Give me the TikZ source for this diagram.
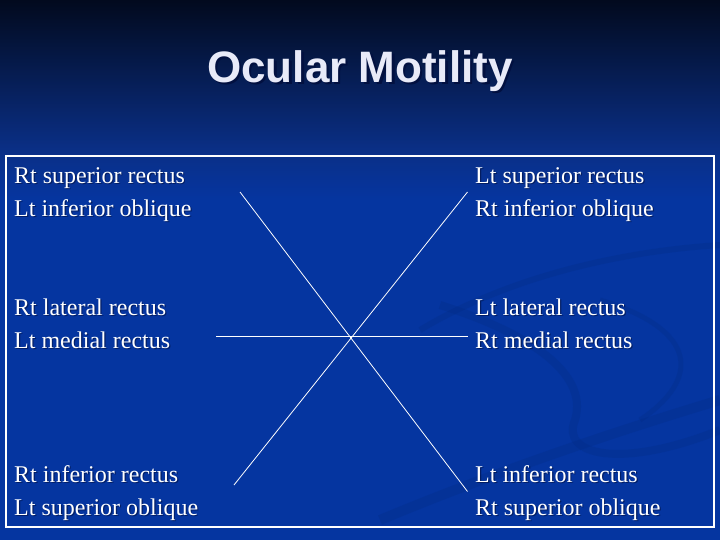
\documentclass[tikz,border=0pt]{standalone}
\usepackage{fontspec}
\setmainfont{Liberation Serif}
\newfontfamily\titlefont{Liberation Sans}
\definecolor{topnavy}{HTML}{020A1E}
\definecolor{midnavy}{HTML}{0A2F86}
\definecolor{bodyblue}{HTML}{0535A0}
\definecolor{swoosh}{HTML}{022A80}
\definecolor{titlewhite}{HTML}{E8EAF8}
\definecolor{shadowc}{HTML}{021040}
\begin{document}
\begin{tikzpicture}[x=1pt,y=-1pt,
  cell/.style={anchor=base west,inner sep=0pt,text=white,font=\fontsize{24}{28}\selectfont},
  cellshadow/.style={anchor=base west,inner sep=0pt,text=shadowc,font=\fontsize{24}{28}\selectfont,opacity=0.6},
  titlestyle/.style={anchor=base,inner sep=0pt,font=\titlefont\bfseries\fontsize{44}{50}\selectfont},
  link/.style={draw=white,line width=0.8pt},
  frame/.style={draw=white,line width=2pt}]
\useasboundingbox (0,0) rectangle (720,540);
% background
\shade[top color=topnavy,bottom color=midnavy] (0,0) rectangle (720,150);
\shade[top color=midnavy,bottom color=bodyblue] (0,150) rectangle (720,200);
\fill[bodyblue] (0,200) rectangle (720,540);
% faint swooshes
\begin{scope}[opacity=0.25]
\draw[swoosh,line width=6pt] (420,330) .. controls (520,270) and (640,250) .. (720,245);
\draw[swoosh,line width=8pt] (440,305) .. controls (520,330) and (590,370) .. (575,420) .. controls (560,455) and (620,470) .. (720,430);
\draw[swoosh,line width=5pt] (600,300) .. controls (700,330) and (700,380) .. (640,420);
\draw[swoosh,line width=10pt] (380,520) .. controls (500,470) and (620,430) .. (720,400);
\end{scope}
% title with shadow
\node[titlestyle,text=shadowc] at (362.5,85) {Ocular Motility};
\node (title) [titlestyle,text=titlewhite] at (360,82.5) {Ocular Motility};
% frame
\draw[frame] (5.5,156) rectangle (714,527);
% shadows of the cell texts
\foreach \y/\t in {183.5/Rt superior rectus,216.5/Lt inferior oblique,315/Rt lateral rectus,348/Lt medial rectus,482.5/Rt inferior rectus,515.5/Lt superior oblique}{
  \node[cellshadow] at (15.2,\y+1.2) {\t};}
\foreach \y/\t in {183.5/Lt superior rectus,216.5/Rt inferior oblique,315/Lt lateral rectus,348/Rt medial rectus,482.5/Lt inferior rectus,515.5/Rt superior oblique}{
  \node[cellshadow] at (476.2,\y+1.2) {\t};}
% left column
\node (l1a) [cell] at (14,183.5) {Rt superior rectus};
\node (l1b) [cell] at (14,216.5) {Lt inferior oblique};
\node (l2a) [cell] at (14,315) {Rt lateral rectus};
\node (l2b) [cell] at (14,348) {Lt medial rectus};
\node (l3a) [cell] at (14,482.5) {Rt inferior rectus};
\node (l3b) [cell] at (14,515.5) {Lt superior oblique};
% right column
\node (r1a) [cell] at (475,183.5) {Lt superior rectus};
\node (r1b) [cell] at (475,216.5) {Rt inferior oblique};
\node (r2a) [cell] at (475,315) {Lt lateral rectus};
\node (r2b) [cell] at (475,348) {Rt medial rectus};
\node (r3a) [cell] at (475,482.5) {Lt inferior rectus};
\node (r3b) [cell] at (475,515.5) {Rt superior oblique};
% connectors
\coordinate (tl) at (240,192);
\coordinate (br) at (467.5,491.5);
\coordinate (tr) at (467.5,192);
\coordinate (bl) at (234,485);
\coordinate (ml) at (216,336.5);
\coordinate (mr) at (468,336.5);
\draw[link] (tl) -- (br);
\draw[link] (tr) -- (bl);
\draw[link] (ml) -- (mr);
\end{tikzpicture}
\end{document}
